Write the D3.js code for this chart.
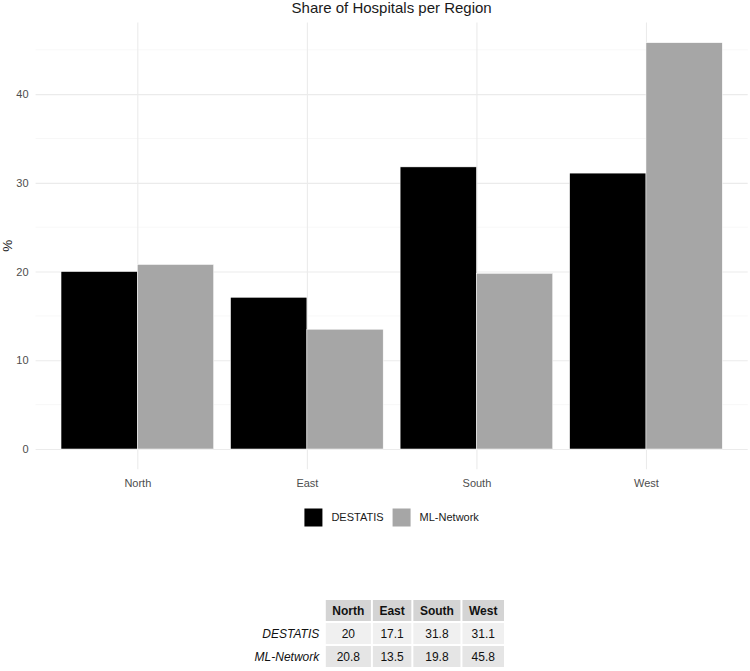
<!DOCTYPE html>
<html>
<head>
<meta charset="utf-8">
<script src="https://cdn.jsdelivr.net/npm/d3@7"></script>
<style>
  body { margin: 0; background: #fff; }
  svg { font-family: "Liberation Sans", Arial, sans-serif; display: block; }
</style>
</head>
<body>
<svg id="chart"></svg>
<script>
// data
const regions = ["North", "East", "South", "West"];
const seriesNames = ["DESTATIS", "ML-Network"];
const destatis = [20, 17.1, 31.8, 31.1];
const mlNetwork = [20.8, 13.5, 19.8, 45.8];
const yTicks = [0, 10, 20, 30, 40];
const yMinorTicks = [5, 15, 25, 35, 45];
const seriesColors = ["#000000", "#a6a6a6"];

const W = 750, H = 671;
const panel = { left: 35.6, right: 747.7, top: 22.4, bottom: 469.3 };

const svg = d3.select("#chart").attr("width", W).attr("height", H);

const allValues = destatis.concat(mlNetwork);
const yMax = d3.max(allValues);
const pad = yMax * 0.05;

// x: discrete positions like ggplot (0.6 unit expansion each side)
const x = d3.scalePoint()
  .domain(regions)
  .range([panel.left, panel.right])
  .padding(0.6);
const step = x.step();
const barW = step * 0.45;

const y = d3.scaleLinear()
  .domain([-pad, yMax + pad])
  .range([panel.bottom, panel.top]);

const g = svg.append("g");

// minor grid
g.append("g")
  .selectAll("line")
  .data(yMinorTicks.filter(t => t <= yMax + pad))
  .enter().append("line")
  .attr("x1", panel.left).attr("x2", panel.right)
  .attr("y1", d => y(d)).attr("y2", d => y(d))
  .attr("stroke", "#f2f2f2").attr("stroke-width", 0.6);

// major grid y
const yAxis = g.append("g")
  .attr("transform", `translate(${panel.left},0)`)
  .call(d3.axisLeft(y).tickValues(yTicks).tickSize(-(panel.right - panel.left)).tickPadding(7));
yAxis.select(".domain").remove();
yAxis.selectAll(".tick line").attr("stroke", "#ebebeb").attr("stroke-width", 1.1);
yAxis.selectAll(".tick text")
  .attr("fill", "#4d4d4d")
  .style("font-size", "11px")
  .style("font-family", "'Liberation Sans', Arial, sans-serif");

// major grid x
const xAxis = g.append("g")
  .attr("transform", `translate(0,${panel.bottom})`)
  .call(d3.axisBottom(x).tickSize(-(panel.bottom - panel.top)).tickPadding(10));
xAxis.select(".domain").remove();
xAxis.selectAll(".tick line").attr("stroke", "#ebebeb").attr("stroke-width", 1.1);
xAxis.selectAll(".tick text")
  .attr("fill", "#4d4d4d")
  .style("font-size", "11px")
  .style("font-family", "'Liberation Sans', Arial, sans-serif");

// bars
const seriesData = [destatis, mlNetwork];
seriesData.forEach((vals, si) => {
  g.append("g")
    .selectAll("rect")
    .data(vals)
    .enter().append("rect")
    .attr("x", (d, i) => x(regions[i]) - barW + si * barW)
    .attr("width", barW)
    .attr("y", d => y(d))
    .attr("height", d => y(0) - y(d))
    .attr("fill", seriesColors[si])
    .attr("stroke", "#ffffff")
    .attr("stroke-width", 0.5);
});

// title
svg.append("text")
  .attr("x", (panel.left + panel.right) / 2)
  .attr("y", 13)
  .attr("text-anchor", "middle")
  .style("font-size", "15px")
  .attr("fill", "#1a1a1a")
  .text("Share of Hospitals per Region");

// y label
svg.append("text")
  .attr("transform", `translate(12,${(panel.top + panel.bottom) / 2}) rotate(-90)`)
  .attr("text-anchor", "middle")
  .style("font-size", "13.5px")
  .attr("fill", "#1a1a1a")
  .text("%");

// legend
const keySize = 18, keyGap = 9, itemGap = 9;
const legend = svg.append("g");
const items = legend.selectAll("g").data(seriesNames).enter().append("g");
items.append("rect")
  .attr("width", keySize).attr("height", keySize)
  .attr("y", -keySize / 2)
  .attr("fill", (d, i) => seriesColors[i]);
items.append("text")
  .attr("x", keySize + keyGap)
  .attr("dy", "0.35em")
  .style("font-size", "11px")
  .attr("fill", "#1a1a1a")
  .text(d => d);
let lx = 0;
items.each(function () {
  const tw = d3.select(this).select("text").node().getComputedTextLength();
  d3.select(this).attr("transform", `translate(${lx},0)`);
  lx += keySize + keyGap + tw + itemGap;
});
const legendW = lx - itemGap;
legend.attr("transform", `translate(${(panel.left + panel.right) / 2 - legendW / 2},517.5)`);

// table
const tableRows = [destatis, mlNetwork];
const cellPad = 15.1, rowH = 23, tableTop = 599;
const tbl = svg.append("g");

function measure(text, weight, style) {
  const t = tbl.append("text").style("font-size", "12px")
    .style("font-weight", weight).style("font-style", style).text(text);
  const w = t.node().getComputedTextLength();
  t.remove();
  return w;
}
const rowHeadW = d3.max(seriesNames, s => measure(s, "normal", "italic")) + cellPad;
const colW = regions.map((r, i) => Math.max(
  measure(r, "bold", "normal"),
  ...tableRows.map(row => measure(String(row[i]), "normal", "normal"))
) + cellPad);
const tableW = rowHeadW + d3.sum(colW);
const tableLeft = W / 2 - tableW / 2;
const colX = [];
let cx = tableLeft + rowHeadW;
colW.forEach(w => { colX.push(cx); cx += w; });

// header
regions.forEach((r, i) => {
  tbl.append("rect")
    .attr("x", colX[i] + 1).attr("y", tableTop + 1)
    .attr("width", colW[i] - 2).attr("height", rowH - 2)
    .attr("fill", "#d4d4d4");
  tbl.append("text")
    .attr("x", colX[i] + colW[i] / 2).attr("y", tableTop + rowH / 2)
    .attr("dy", "0.35em").attr("text-anchor", "middle")
    .style("font-size", "12px").style("font-weight", "bold")
    .attr("fill", "#111")
    .text(r);
});
// body
const rowFills = ["#f0f0f0", "#e5e5e5"];
tableRows.forEach((row, ri) => {
  const ry = tableTop + rowH * (ri + 1);
  tbl.append("text")
    .attr("x", tableLeft + rowHeadW - cellPad / 2 + 2).attr("y", ry + rowH / 2)
    .attr("dy", "0.35em").attr("text-anchor", "end")
    .style("font-size", "12px").style("font-style", "italic")
    .attr("fill", "#111")
    .text(seriesNames[ri]);
  row.forEach((v, i) => {
    tbl.append("rect")
      .attr("x", colX[i] + 1).attr("y", ry + 1)
      .attr("width", colW[i] - 2).attr("height", rowH - 2)
      .attr("fill", rowFills[ri]);
    tbl.append("text")
      .attr("x", colX[i] + colW[i] / 2).attr("y", ry + rowH / 2)
      .attr("dy", "0.35em").attr("text-anchor", "middle")
      .style("font-size", "12px")
      .attr("fill", "#111")
      .text(String(v));
  });
});
</script>
</body>
</html>
